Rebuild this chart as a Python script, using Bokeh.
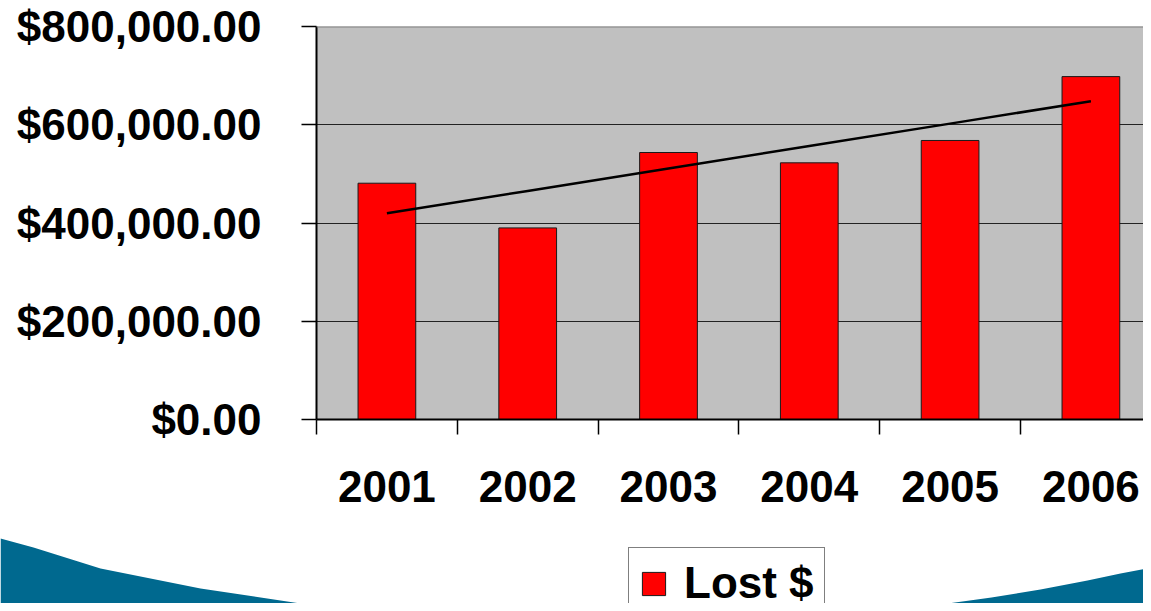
from bokeh.plotting import figure
from bokeh.layouts import column
from bokeh.models import (ColumnDataSource, Range1d, FixedTicker, NumeralTickFormatter,
                          Legend, LegendItem, Span)
from bokeh.embed import file_html
from bokeh.resources import INLINE

# ---- data ----
years = ["2001", "2002", "2003", "2004", "2005", "2006"]
lost = [481000, 390000, 543500, 522500, 568000, 698000]
y_ticks = [0, 200000, 400000, 600000, 800000]
series_name = "Lost $"

# positions of categories (centers) on numeric axis
centers = [i + 0.5 for i in range(len(years))]
bounds = list(range(len(years) + 1))

# linear trendline (least squares) computed from the data
n = len(lost)
xs_idx = list(range(1, n + 1))
mx = sum(xs_idx) / n
my = sum(lost) / n
slope = sum((x - mx) * (y - my) for x, y in zip(xs_idx, lost)) / sum((x - mx) ** 2 for x in xs_idx)
trend = [my + slope * (x - mx) for x in xs_idx]

FONT = "Liberation Sans"
FS = "44px"
W = 1143
H_MAIN = 530
H_BOT = 73

p = figure(width=W, height=H_MAIN, output_backend="svg", toolbar_location=None,
           x_range=Range1d(0, 827 / 140.8), y_range=Range1d(0, 800000),
           min_border_left=316, min_border_top=26, min_border_bottom=111, min_border_right=0)
p.frame_align = False
p.background_fill_color = "#C0C0C0"
p.border_fill_color = "white"
p.outline_line_color = None

src = ColumnDataSource(dict(x=centers, top=lost, year=years))
bar_style = dict(fill_color="#FF0000", line_color="#1a1a1a", line_width=1)
bars = p.vbar(x="x", top="top", width=0.41, source=src, **bar_style)
p.line(centers, trend, line_color="black", line_width=2.5)

# grid
p.xgrid.visible = False
p.ygrid.ticker = FixedTicker(ticks=y_ticks)
p.ygrid.grid_line_color = "#222222"
p.ygrid.grid_line_width = 1
p.add_layout(Span(location=800000, dimension="width", line_color="#808080", line_width=2))

# y axis
ya = p.yaxis[0]
ya.ticker = FixedTicker(ticks=y_ticks)
ya.formatter = NumeralTickFormatter(format="$0,0.00")
ya.major_tick_out = 15
ya.major_tick_in = 0
ya.minor_tick_line_color = None
ya.major_tick_line_color = "black"
ya.major_tick_line_width = 1.5
ya.axis_line_color = "black"
ya.axis_line_width = 2
ya.major_label_standoff = 40
ya.major_label_text_font = FONT
ya.major_label_text_font_style = "bold"
ya.major_label_text_font_size = FS
ya.major_label_text_color = "black"

# x axis
xa = p.xaxis[0]
xa.ticker = FixedTicker(ticks=centers, minor_ticks=bounds)
xa.major_label_overrides = {c: y for c, y in zip(centers, years)}
xa.major_tick_out = 0
xa.major_tick_in = 0
xa.major_tick_line_color = None
xa.minor_tick_out = 15
xa.minor_tick_in = 0
xa.minor_tick_line_color = "black"
xa.minor_tick_line_width = 1.5
xa.axis_line_color = "black"
xa.axis_line_width = 2
xa.major_label_standoff = 36
xa.major_label_text_font = FONT
xa.major_label_text_font_style = "bold"
xa.major_label_text_font_size = FS
xa.major_label_text_color = "black"

# ---- bottom strip: slide decoration + legend (pixel coordinates) ----
pb = figure(width=W, height=H_BOT, output_backend="svg", toolbar_location=None,
            x_range=Range1d(0, W), y_range=Range1d(H_MAIN + H_BOT, H_MAIN),
            min_border=0, min_border_left=0, min_border_right=0,
            min_border_top=0, min_border_bottom=0)
pb.frame_align = False
pb.axis.visible = False
pb.grid.visible = False
pb.outline_line_color = None
pb.background_fill_color = "white"
pb.border_fill_color = "white"

left_pts = [(0, 538), (33, 547), (100, 568), (200, 588), (300, 603), (333, 609),
            (380, 612), (380, 620), (0, 620)]
right_pts = [(1151, 567), (1120, 573), (1087, 580), (1040, 589), (991, 597),
             (940, 604), (892, 612), (892, 620), (1151, 620)]
pb.patches([[q[0] for q in left_pts], [q[0] for q in right_pts]],
           [[q[1] for q in left_pts], [q[1] for q in right_pts]],
           fill_color="#00698F", line_color=None)

# legend swatch: the same bar series (hidden here), used only for the legend entry
swatch = pb.vbar(x="x", top="top", width=0.41, source=src, visible=False, **bar_style)
legend = Legend(items=[LegendItem(label=series_name, renderers=[swatch], index=0)],
                location=(628, -16), orientation="vertical",
                label_text_font=FONT, label_text_font_style="bold",
                label_text_font_size=FS, label_text_color="black",
                glyph_width=29, glyph_height=29, label_standoff=16,
                padding=10, margin=0, spacing=0,
                border_line_color="black", border_line_width=1,
                background_fill_color="white", background_fill_alpha=1.0)
pb.add_layout(legend, "center")

layout = column(p, pb, spacing=0)
open("out.html", "w").write(file_html(layout, INLINE))
